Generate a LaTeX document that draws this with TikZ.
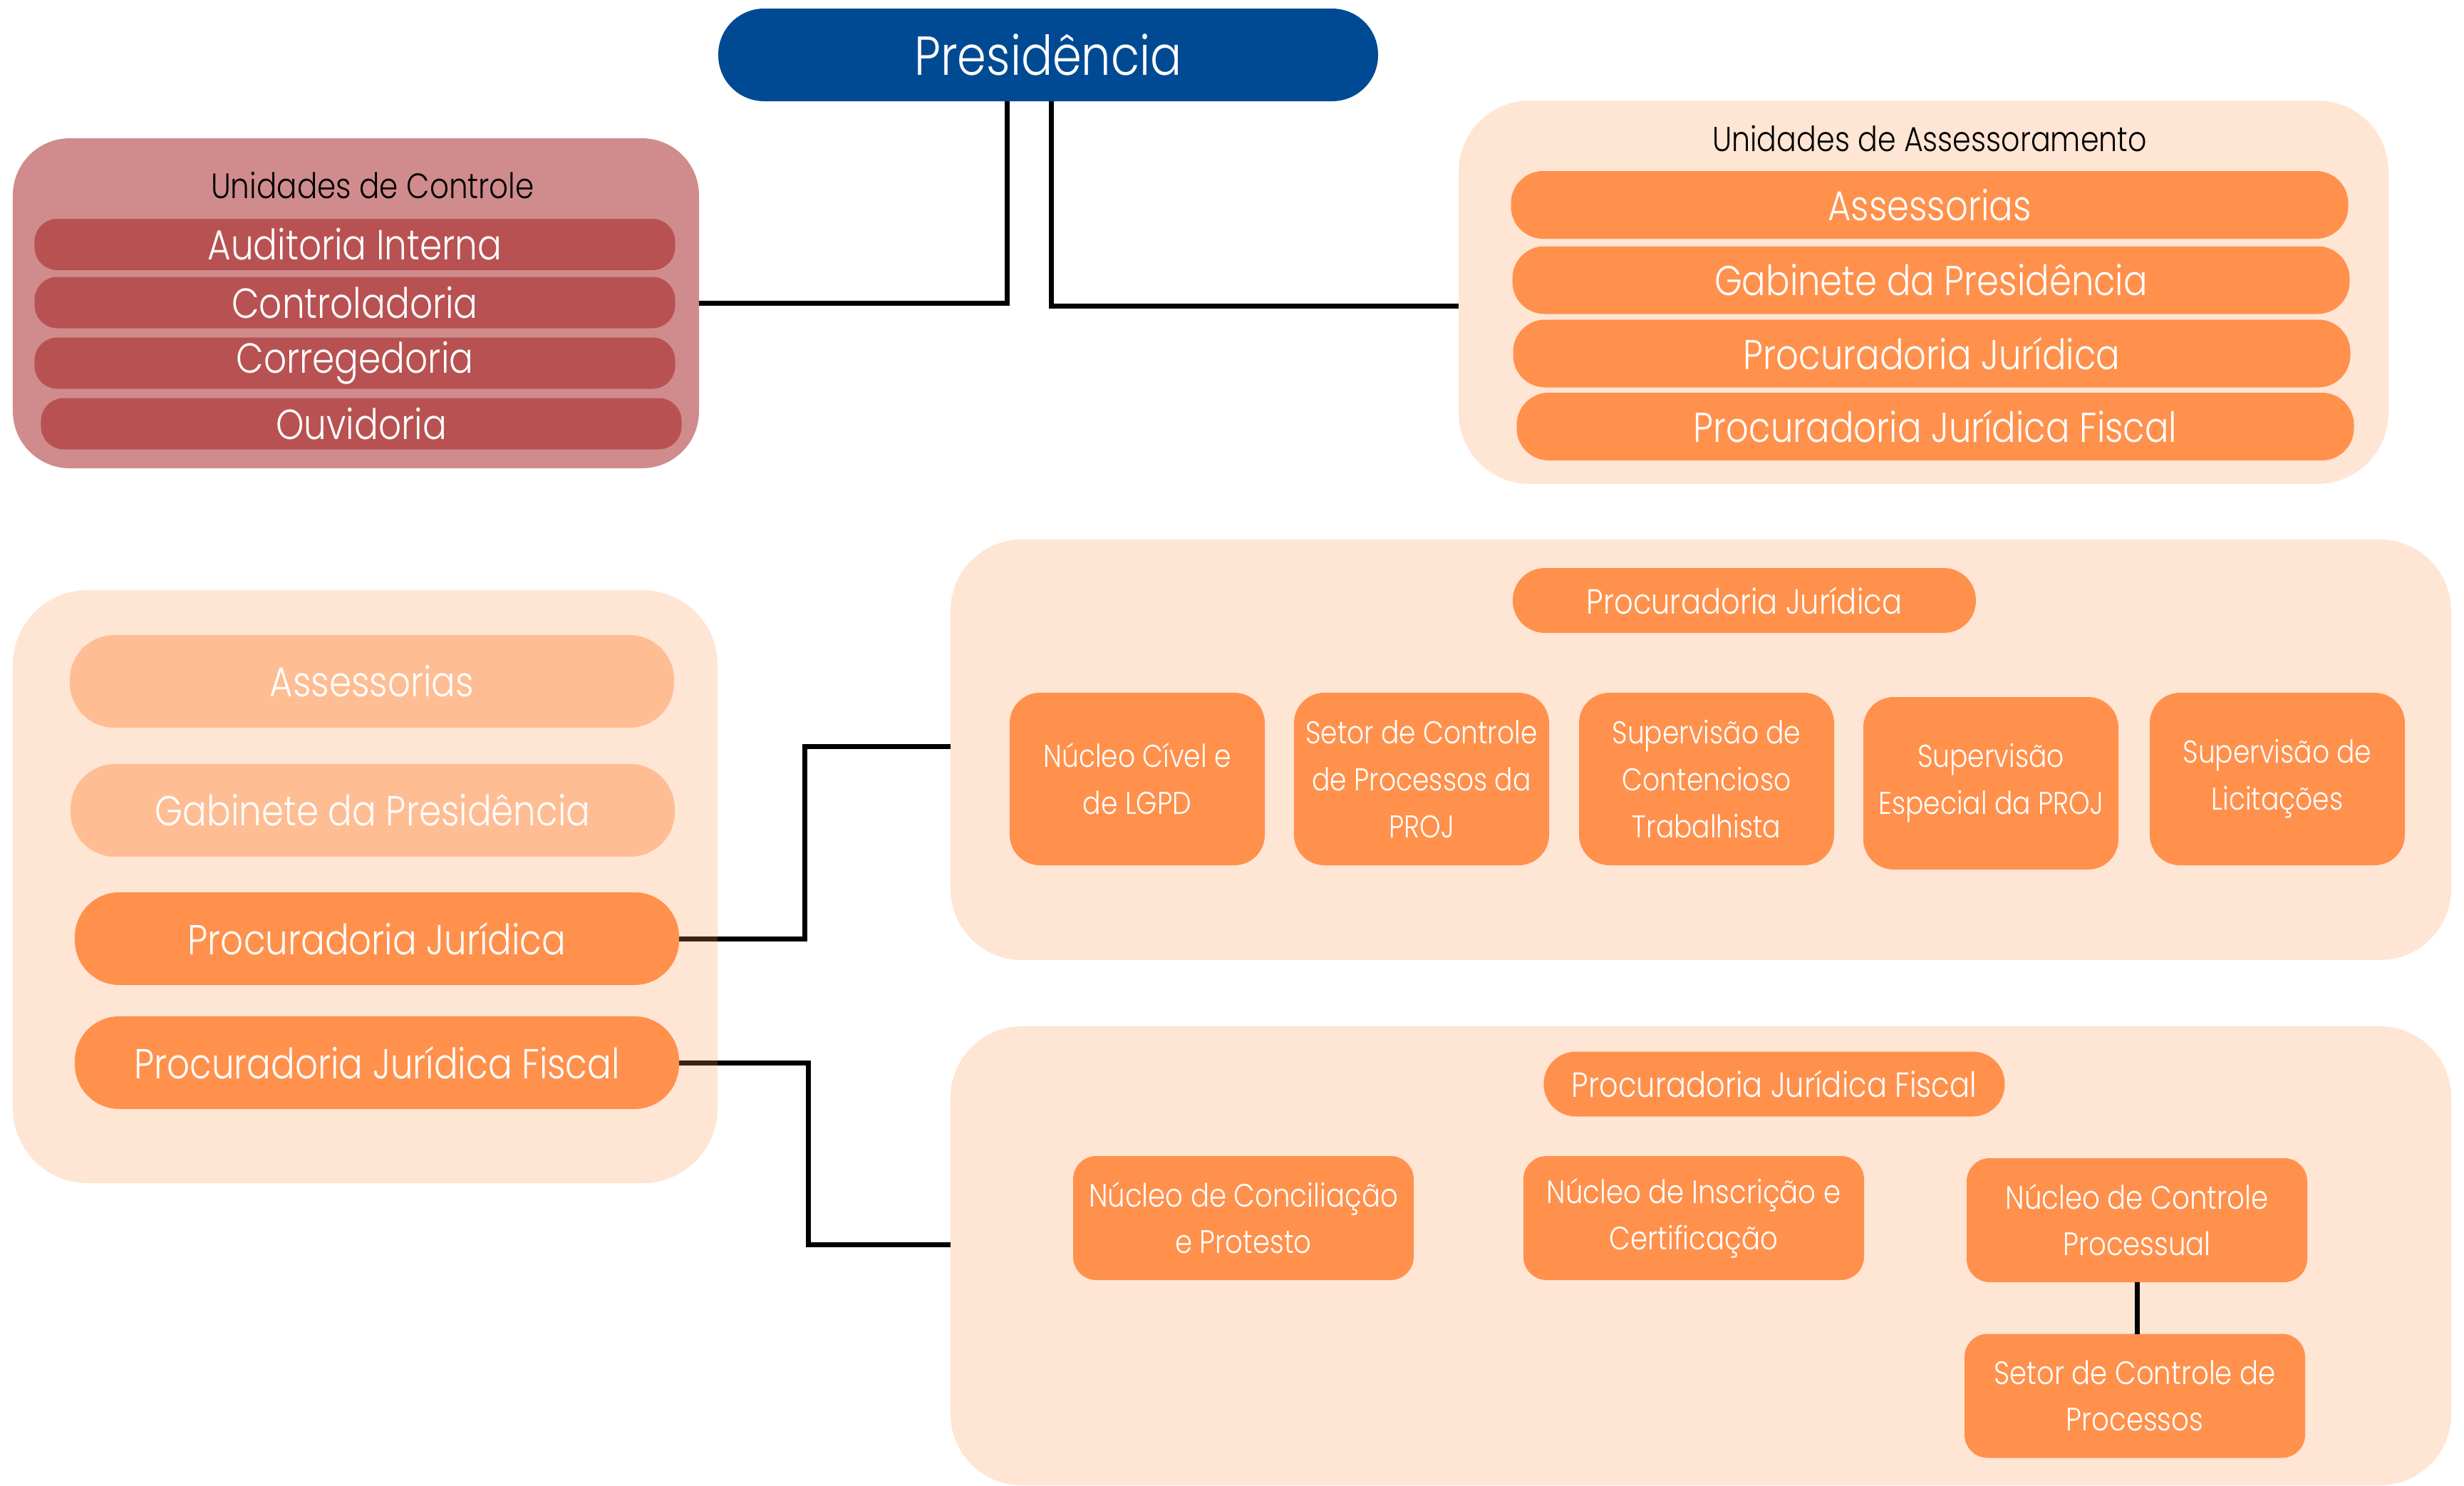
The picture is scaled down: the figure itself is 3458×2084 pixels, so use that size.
\documentclass[tikz,border=0pt]{standalone}
\usepackage{fontspec}
\setmainfont{Poppins}[UprightFont=* Light,FakeStretch=0.85]
\usepackage{xcolor}
\usepackage{tikz}
\definecolor{presblue}{HTML}{004A94}
\definecolor{ctlred}{HTML}{B85252}
\definecolor{ora}{HTML}{FF914D}
\colorlet{orapale}{ora!60!white}
\pgfdeclarelayer{wire}
\pgfdeclarelayer{back}
\pgfsetlayers{wire,back,main}
\tikzstyle{grp}=[rectangle,inner sep=0pt,outer sep=0pt,rounded corners=20pt]
\tikzstyle{ctlgrp}=[grp,fill=ctlred,fill opacity=0.665,rounded corners=16pt]
\tikzstyle{oragrp}=[grp,fill=ora,fill opacity=0.24]
\tikzstyle{box}=[rectangle,inner sep=0pt,outer sep=0pt,text=white,align=center]
\tikzstyle{pres}=[box,fill=presblue,minimum width=185.2pt,minimum height=26pt,rounded corners=12.9pt,font=\fontsize{15.4}{18}\selectfont]
\tikzstyle{gname}=[font=\fontsize{9.9}{12}\selectfont]
\tikzstyle{ctlitem}=[box,fill=ctlred,minimum width=179.8pt,minimum height=14.4pt,rounded corners=6.4pt,font=\fontsize{11.8}{14}\selectfont]
\tikzstyle{asitem}=[box,fill=ora,minimum width=235pt,minimum height=19pt,rounded corners=9pt,font=\fontsize{11.7}{14}\selectfont]
\tikzstyle{llitem}=[box,fill=ora,minimum width=169.6pt,minimum height=26pt,rounded corners=12.5pt,font=\fontsize{11.75}{14}\selectfont]
\tikzstyle{gtitle}=[box,fill=ora,minimum height=18.2pt,rounded corners=9pt,font=\fontsize{9.8}{12}\selectfont]
\tikzstyle{sub}=[box,fill=ora,minimum width=71.6pt,minimum height=48.4pt,rounded corners=8.5pt,font=\fontsize{8.85}{13.2}\selectfont]
\tikzstyle{fsub}=[box,fill=ora,minimum width=95.6pt,minimum height=34.8pt,rounded corners=6.5pt,font=\fontsize{9.1}{13}\selectfont]
\tikzstyle{link}=[line width=1.4pt,black]

\begin{document}
\begin{tikzpicture}[x=0.2pt,y=-0.2pt]
	\useasboundingbox (0,0) rectangle (3458,2084);
	\node[pres] (P) at (1471,77) {Presidência};
	% unidades de controle
	\node[gname] (ctlT) at (523,260) {Unidades de Controle};
	\node[ctlitem] (aud) at (498,343)   {Auditoria Interna};
	\node[ctlitem] (ctr) at (498,424.5) {Controladoria};
	\node[ctlitem] (cor) at (498,509.5) {Corregedoria};
	\node[ctlitem] (ouv) at (507,594.5) {Ouvidoria};
	% unidades de assessoramento
	\node[gname,font=\fontsize{9.7}{12}\selectfont] (asT) at (2708,194) {Unidades de Assessoramento};
	\node[asitem] (asA) at (2708,287.5)   {Assessorias};
	\node[asitem] (asG) at (2710,393)   {Gabinete da Presidência};
	\node[asitem] (asP) at (2711,496)   {Procuradoria Jurídica};
	\node[asitem] (asF) at (2716,598.5) {Procuradoria Jurídica Fiscal};
	% lado esquerdo
	\node[llitem,fill=orapale] (laA) at (522,956)  {Assessorias};
	\node[llitem,fill=orapale] (laG) at (523,1137) {Gabinete da Presidência};
	\node[llitem] (laP) at (529,1317) {Procuradoria Jurídica};
	\node[llitem] (laF) at (529,1491) {Procuradoria Jurídica Fiscal};
	% procuradoria juridica
	\node[gtitle,minimum width=130pt] (pjT) at (2448,842.5) {Procuradoria Jurídica};
	\node[sub] (pj1) at (1596,1093) {Núcleo Cível e\\de LGPD};
	\node[sub] (pj2) at (1995,1093) {Setor de Controle\\de Processos da\\PROJ};
	\node[sub] (pj3) at (2395,1093) {Supervisão de\\Contencioso\\Trabalhista};
	\node[sub] (pj4) at (2794,1099) {Supervisão\\Especial da PROJ};
	\node[sub] (pj5) at (3196,1093) {Supervisão de\\Licitações};
	% procuradoria juridica fiscal
	\node[gtitle,minimum width=129.4pt] (pfT) at (2490,1521) {Procuradoria Jurídica Fiscal};
	\node[fsub] (pf1) at (1745,1709)   {Núcleo de Conciliação\\e Protesto};
	\node[fsub] (pf2) at (2377,1709)   {Núcleo de Inscrição e\\Certificação};
	\node[fsub] (pf3) at (2999,1712)   {Núcleo de Controle\\Processual};
	\node[fsub] (pf4) at (2996,1958.5) {Setor de Controle de\\Processos};
	\draw[link] (pf3.south) -- (pf3.south |- pf4.north);
	\begin{pgfonlayer}{back}
		\node[ctlgrp,minimum width=192.6pt,minimum height=92.6pt] (ctl) at (499.5,425.5) {};
		\node[oragrp,minimum width=261pt,minimum height=107.6pt] (ass) at (2699.5,410) {};
		\node[oragrp,minimum width=197.8pt,minimum height=166.4pt,rounded corners=21pt] (ll) at (512.5,1244) {};
		\node[oragrp,minimum width=421.2pt,minimum height=118pt] (pj) at (2387,1052) {};
		\node[oragrp,minimum width=421.2pt,minimum height=128.8pt] (pjf) at (2387,1762) {};
	\end{pgfonlayer}
	\begin{pgfonlayer}{wire}
		\draw[link] ([xshift=-11.6pt]P.south) |- (ctl.east);
		\draw[link] ([xshift=0.8pt]P.south) |- ([yshift=-3.8pt]ass.west);
		\draw[link] (laP.east) -- ++(176,0) |- ([yshift=1pt]pj.west);
		\draw[link] (laF.east) -- ++(181,0) |- ([yshift=3.2pt]pjf.west);
	\end{pgfonlayer}
\end{tikzpicture}
\end{document}
